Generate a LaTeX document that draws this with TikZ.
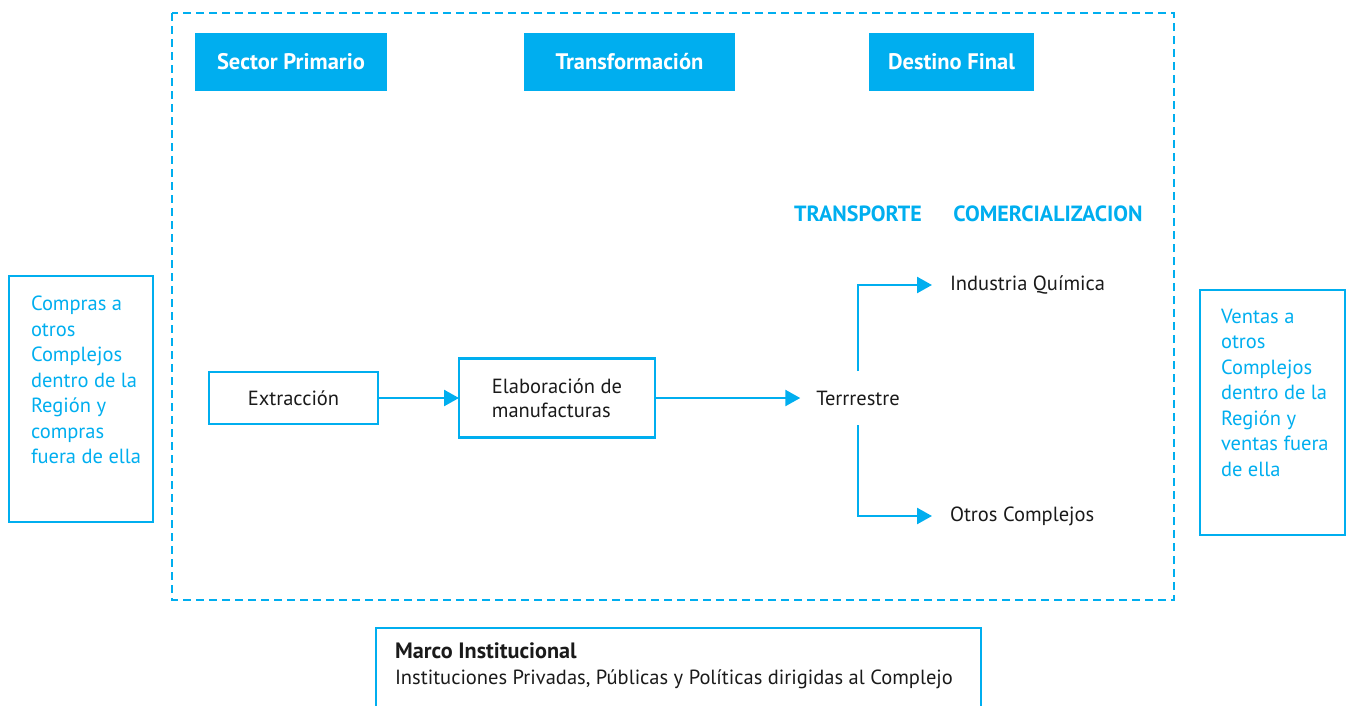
\documentclass[tikz,border=0pt]{standalone}
\usepackage{fontspec}
\setmainfont{PT Sans}
\usetikzlibrary{arrows.meta}
\definecolor{cy}{HTML}{00AEEF}
\definecolor{ink}{HTML}{1A1A1A}
\tikzset{
  every node/.style={inner sep=0pt, outer sep=0pt},
  txt/.style={text=ink, font=\fontsize{20.5}{24}\selectfont},
  cytxt/.style={text=cy, font=\fontsize{20.5}{25.5}\selectfont, align=left},
  hdr/.style={fill=cy, text=white, font=\fontsize{22.5}{24}\selectfont\bfseries, minimum height=58pt},
  sub/.style={text=cy, font=\fontsize{22}{24}\selectfont\bfseries},
  box/.style={draw=cy, line width=2.5pt},
  arr/.style={draw=cy, line width=2.5pt, -{Triangle[length=15pt,width=16pt]}},
  frame/.style={draw=cy, line width=2.5pt, dash pattern=on 8pt off 5pt}
}
\begin{document}
\begin{tikzpicture}[x=1pt,y=-1pt]
\useasboundingbox (0,0) rectangle (1349,705);
\clip (0,0) rectangle (1349,705);
\draw[frame] (172,13) rectangle (1174,600);

\node[hdr, minimum width=192pt] (h1) at (291,62) {Sector Primario};
\node[hdr, minimum width=211pt] (h2) at (629.5,62) {Transformación};
\node[hdr, minimum width=165pt] (h3) at (951.5,62) {Destino Final};

\node[sub] (tr) at (858,214) {TRANSPORTE};
\node[sub] (co) at (1048,214) {COMERCIALIZACION};

\node[box, anchor=north west, minimum width=144pt, minimum height=246pt] (lb) at (9,276) {};
\node[cytxt, anchor=north west] (lt) at (31,296) {Compras a\\otros\\Complejos\\dentro de la\\Región y\\compras\\fuera de ella};

\node[box, anchor=north west, minimum width=145pt, minimum height=245pt] (rb) at (1200,290) {};
\node[cytxt, anchor=north west] (rt) at (1221,309) {Ventas a\\otros\\Complejos\\dentro de la\\Región y\\ventas fuera\\de ella};

\node[box, txt, minimum width=169pt, minimum height=52pt] (ext) at (293.5,398) {Extracción};
\node[box, txt, minimum width=196pt, minimum height=79pt, align=left] (elab) at (557,398) {Elaboración de\\manufacturas};

\node[txt, inner xsep=16pt, minimum height=54pt] (ter) at (858,398) {Terrrestre};
\node[txt, anchor=west, inner xsep=18pt] (ind) at (932,285) {Industria Química};
\node[txt, anchor=west, inner xsep=18pt] (otr) at (932,516) {Otros Complejos};

\draw[arr] (ext.east) -- (elab.west |- ext.east);
\draw[arr] (elab.east |- ter.west) -- (ter.west);
\draw[arr] (ter.north) |- (ind.west);
\draw[arr] (ter.south) |- (otr.west);

\node[box, anchor=north west, minimum width=605pt, minimum height=120pt] (mb) at (376,628) {};
\node[txt, anchor=north west, align=left, font=\fontsize{20.5}{26}\selectfont] (mt) at (395,643) {{\fontsize{22.2}{26}\selectfont\bfseries Marco Institucional}\\Instituciones Privadas, Públicas y Políticas dirigidas al Complejo};
\end{tikzpicture}
\end{document}
